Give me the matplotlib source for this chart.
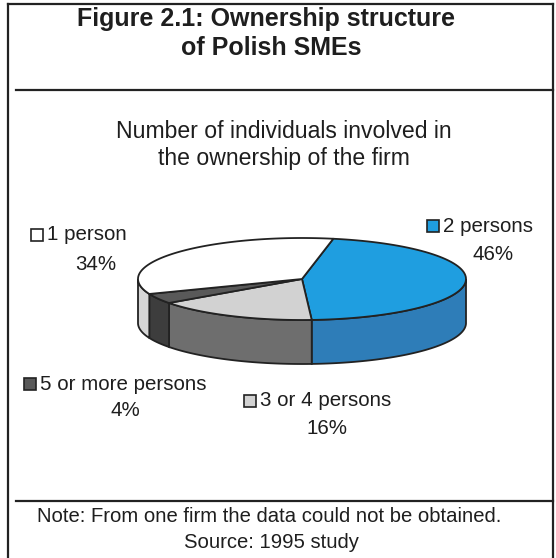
import numpy as np
import matplotlib.pyplot as plt
from matplotlib.patches import Polygon, Rectangle

plt.rcParams['font.family'] = ['Liberation Sans', 'DejaVu Sans']

# ownership shares, clockwise from the top of the pie
categories = ['2 persons', '3 or 4 persons', '5 or more persons', '1 person']
shares = [46, 16, 4, 34]
top_colors = ['#1f9ee0', '#d2d2d2', '#595959', '#ffffff']
side_colors = ['#2e7db8', '#6e6e6e', '#3d3d3d', '#d6d6d6']

W, H = 556, 558
fig = plt.figure(figsize=(W / 100, H / 100), dpi=100)
ax = fig.add_axes([0, 0, 1, 1])
ax.set_xlim(0, W)
ax.set_ylim(H, 0)
ax.axis('off')

edge = '#222222'
ink = '#1e1e1e'

# frame and rules
ax.plot([8, 8], [4, H], color=edge, lw=1.6)
ax.plot([8, 553], [4, 4], color=edge, lw=1.6)
ax.plot([553, 553], [4, H], color=edge, lw=1.6)
ax.plot([16, 553], [90, 90], color=edge, lw=1.6)
ax.plot([16, 553], [501, 501], color=edge, lw=1.6)

ax.text(266, 19, 'Figure 2.1: Ownership structure', ha='center', va='center',
        fontsize=18, fontweight='bold', color=ink)
ax.text(271, 48, 'of Polish SMEs', ha='center', va='center',
        fontsize=18, fontweight='bold', color=ink)

ax.text(284, 132, 'Number of individuals involved in', ha='center', va='center',
        fontsize=16.6, color=ink)
ax.text(284, 158, 'the ownership of the firm', ha='center', va='center',
        fontsize=16.6, color=ink)

ax.text(269, 517, 'Note: From one firm the data could not be obtained.', ha='center',
        va='center', fontsize=14.6, color=ink)
ax.text(271, 543, 'Source: 1995 study', ha='center', va='center',
        fontsize=14.6, color=ink)

# 3D pie geometry
cx, cy, rx, ry, depth = 302, 279, 164, 41, 44
start = 79.0


def arc(a0, a1, n=80):
    t = np.radians(np.linspace(a0, a1, n))
    return np.column_stack([cx + rx * np.cos(t), cy - ry * np.sin(t)])


bounds = start - 360 * np.cumsum([0] + shares) / sum(shares)
slices = list(zip(bounds[:-1], bounds[1:]))

# side walls (only the front half is visible)
for (a0, a1), col in zip(slices, side_colors):
    for off in (0, -360):
        lo = max(min(a0, a1) - off, -180)
        hi = min(max(a0, a1) - off, 0)
        if hi > lo:
            pts = arc(hi, lo)
            low = pts[::-1] + [0, depth]
            ax.add_patch(Polygon(np.vstack([pts, low]), closed=True, facecolor=col,
                                 edgecolor=edge, lw=1.3, zorder=2))

# top faces
for (a0, a1), col in zip(slices, top_colors):
    pts = np.vstack([[cx, cy], arc(a0, a1)])
    ax.add_patch(Polygon(pts, closed=True, facecolor=col, edgecolor=edge,
                         lw=1.3, zorder=3))

# data labels with colour keys
label_pos = {
    '1 person': (47, 235, 96, 265),
    '2 persons': (443, 226, 493, 255),
    '5 or more persons': (40, 384, 125, 411),
    '3 or 4 persons': (260, 401, 327, 429),
}
for name, val, col in zip(categories, shares, top_colors):
    tx, ty, px, py = label_pos[name]
    ax.add_patch(Rectangle((tx - 16, ty - 6.5), 12, 12, facecolor=col,
                           edgecolor=edge, lw=1.2, zorder=4))
    ax.text(tx, ty, name, ha='left', va='center', fontsize=14.8, color=ink)
    ax.text(px, py, f'{val}%', ha='center', va='center', fontsize=14.8, color=ink)

fig.savefig('out.png', dpi=100)
